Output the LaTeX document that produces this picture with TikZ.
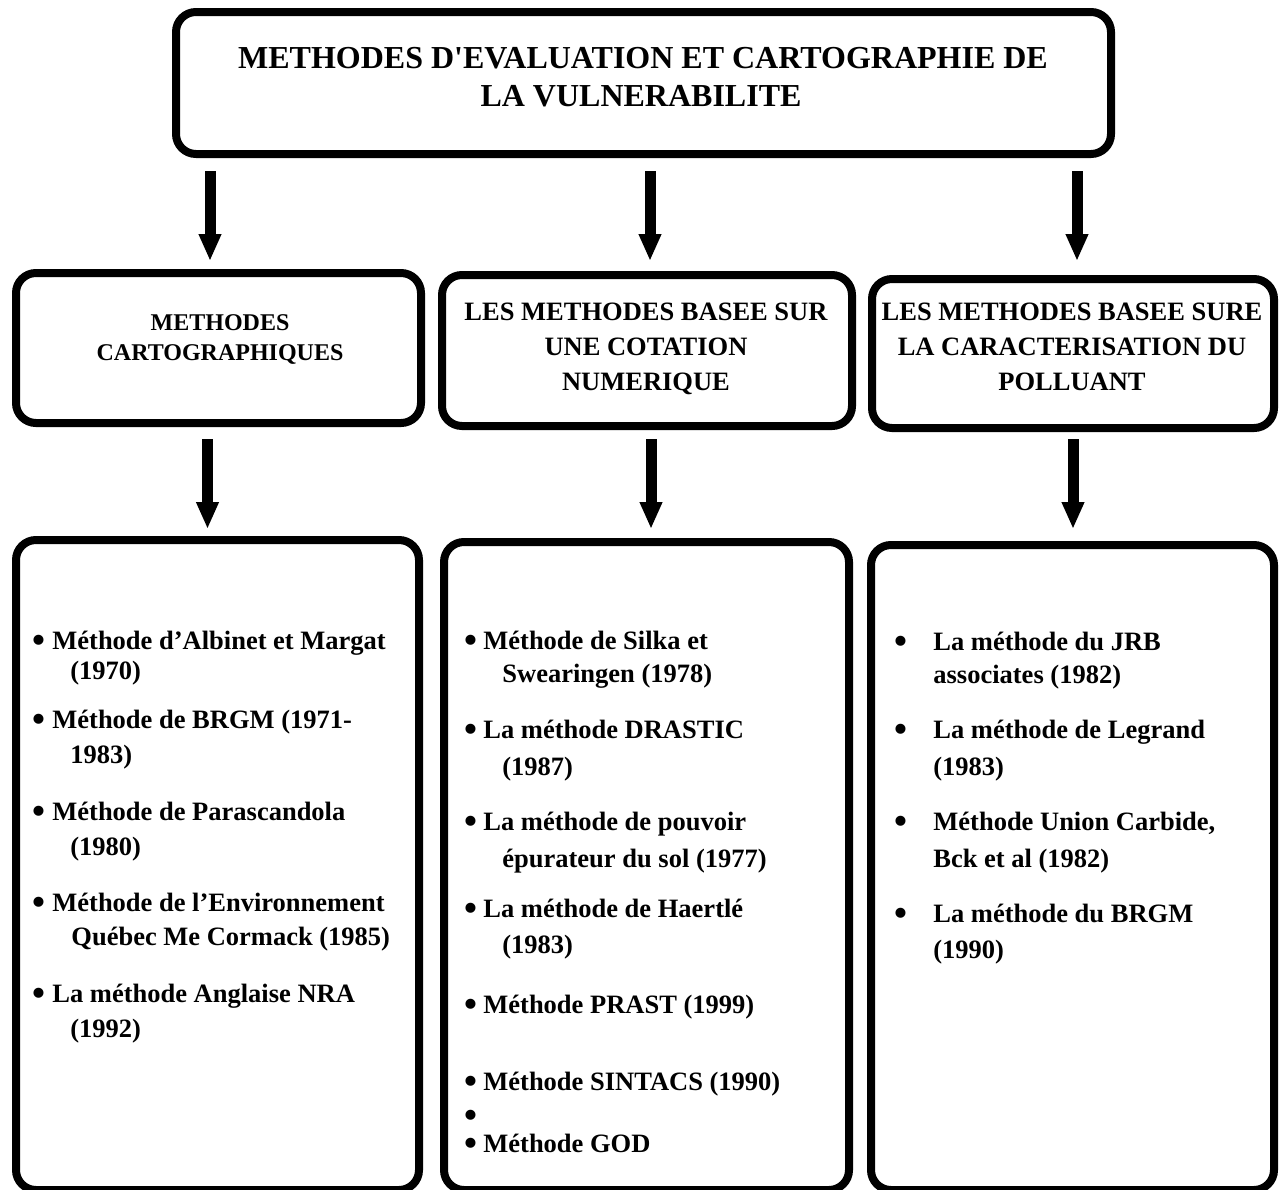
\documentclass[tikz,border=0pt]{standalone}
\usepackage{fontspec}
\setmainfont{Liberation Serif}
\usetikzlibrary{arrows.meta}
\begin{document}
\begin{tikzpicture}[x=0.5pt,y=-0.5pt,
  box/.style={draw=black, line width=4pt, rounded corners=10pt, inner sep=0pt, fill=white},
  flow/.style={line width=5.5pt, -{Triangle[width=10.5pt,length=13.5pt]}},
  ttl/.style={font=\fontsize{16}{19}\selectfont\bfseries, anchor=base, inner sep=0pt},
  hd/.style={font=\fontsize{13.25}{16}\selectfont\bfseries, anchor=base, inner sep=0pt},
  hdsm/.style={font=\fontsize{12}{14}\selectfont\bfseries, anchor=base, inner sep=0pt},
  itm/.style={font=\fontsize{13.25}{16}\selectfont\bfseries, anchor=base west, inner sep=0pt},
  bul/.style={font=\fontsize{18.5}{20}\selectfont\bfseries, anchor=center, inner sep=0pt, yshift=2.6pt},
]
\useasboundingbox (0,0) rectangle (1285,1189);

% boxes
\node[box, minimum width=467.5pt, minimum height=71pt] (top) at (643.5,83) {};
\node[box, minimum width=202.5pt, minimum height=75pt] (lmid) at (218.5,348) {};
\node[box, minimum width=205pt, minimum height=75.5pt] (mmid) at (647,350.5) {};
\node[box, minimum width=201pt, minimum height=74.5pt] (rmid) at (1073,353.5) {};
\node[box, minimum width=201.5pt, minimum height=325pt] (lbot) at (217.5,865) {};
\node[box, minimum width=202.5pt, minimum height=324pt] (mbot) at (646.5,866) {};
\node[box, minimum width=201.5pt, minimum height=322.5pt] (rbot) at (1072.5,867.5) {};

% arrow columns
\coordinate (c1) at (210,0);
\coordinate (c2) at (650,0);
\coordinate (c3) at (1077,0);
\coordinate (c4) at (207.5,0);
\coordinate (c5) at (651,0);
\coordinate (c6) at (1073,0);

\draw[flow, shorten <=6.5pt, shorten >=4pt] (top.south -| c1) -- (lmid.north -| c1);
\draw[flow, shorten <=6.5pt, shorten >=5pt] (top.south -| c2) -- (mmid.north -| c2);
\draw[flow, shorten <=6.5pt, shorten >=7pt] (top.south -| c3) -- (rmid.north -| c3);
\draw[flow, shorten <=6pt, shorten >=3.5pt] (lmid.south -| c4) -- (lbot.north -| c4);
\draw[flow, shorten <=4.5pt, shorten >=4.5pt] (mmid.south -| c5) -- (mbot.north -| c5);
\draw[flow, shorten <=3.5pt, shorten >=6pt] (rmid.south -| c6) -- (rbot.north -| c6);

% title
\node[ttl] (t1) at (643,68) {METHODES D\textquotesingle EVALUATION ET CARTOGRAPHIE DE};
\node[ttl] (t2) at (641,106) {LA VULNERABILITE};

% headers
\node[hdsm] (h11) at (220,330) {METHODES};
\node[hdsm] (h12) at (220,360) {CARTOGRAPHIQUES};
\node[hd] (h21) at (646,320) {LES METHODES BASEE SUR};
\node[hd] (h22) at (646,355) {UNE COTATION};
\node[hd] (h23) at (646,390) {NUMERIQUE};
\node[hd] (h31) at (1072,320) {LES METHODES BASEE SURE};
\node[hd] (h32) at (1072,355) {LA CARACTERISATION DU};
\node[hd] (h33) at (1072,390) {POLLUANT};

% left list
\node[bul] (lb1) at (39,649) {•};
\node[itm] (l11) at (52,649) {Méthode d’Albinet et Margat};
\node[itm] (l12) at (70,679) {(1970)};
\node[bul] (lb2) at (39,728) {•};
\node[itm] (l21) at (52,728) {Méthode de BRGM (1971-};
\node[itm] (l22) at (70,763) {1983)};
\node[bul] (lb3) at (39,820) {•};
\node[itm] (l31) at (52,820) {Méthode de Parascandola};
\node[itm] (l32) at (70,855) {(1980)};
\node[bul] (lb4) at (39,911) {•};
\node[itm] (l41) at (52,911) {Méthode de l’Environnement};
\node[itm] (l42) at (71,945) {Québec Me Cormack (1985)};
\node[bul] (lb5) at (39,1002) {•};
\node[itm] (l51) at (52,1002) {La méthode Anglaise NRA};
\node[itm] (l52) at (70,1037) {(1992)};

% middle list
\node[bul] (mb1) at (471,649) {•};
\node[itm] (m11) at (483,649) {Méthode de Silka et};
\node[itm] (m12) at (502,682) {Swearingen (1978)};
\node[bul] (mb2) at (471,738) {•};
\node[itm] (m21) at (483,738) {La méthode DRASTIC};
\node[itm] (m22) at (502,775) {(1987)};
\node[bul] (mb3) at (471,830) {•};
\node[itm] (m31) at (483,830) {La méthode de pouvoir};
\node[itm] (m32) at (502,867) {épurateur du sol (1977)};
\node[bul] (mb4) at (471,917) {•};
\node[itm] (m41) at (483,917) {La méthode de Haertlé};
\node[itm] (m42) at (502,953) {(1983)};
\node[bul] (mb5) at (471,1013) {•};
\node[itm] (m51) at (483,1013) {Méthode PRAST (1999)};
\node[bul] (mb6) at (471,1090) {•};
\node[itm] (m61) at (483,1090) {Méthode SINTACS (1990)};
\node[bul] (mb7) at (471,1124) {•};
\node[bul] (mb8) at (471,1152) {•};
\node[itm] (m81) at (483,1152) {Méthode GOD};

% right list
\node[bul] (rb1) at (901,650) {•};
\node[itm] (r11) at (933,650) {La méthode du JRB};
\node[itm] (r12) at (933,683) {associates (1982)};
\node[bul] (rb2) at (901,738) {•};
\node[itm] (r21) at (933,738) {La méthode de Legrand};
\node[itm] (r22) at (933,775) {(1983)};
\node[bul] (rb3) at (901,830) {•};
\node[itm] (r31) at (933,830) {Méthode Union Carbide,};
\node[itm] (r32) at (933,867) {Bck et al (1982)};
\node[bul] (rb4) at (901,922) {•};
\node[itm] (r41) at (933,922) {La méthode du BRGM};
\node[itm] (r42) at (933,958) {(1990)};
\end{tikzpicture}
\end{document}
